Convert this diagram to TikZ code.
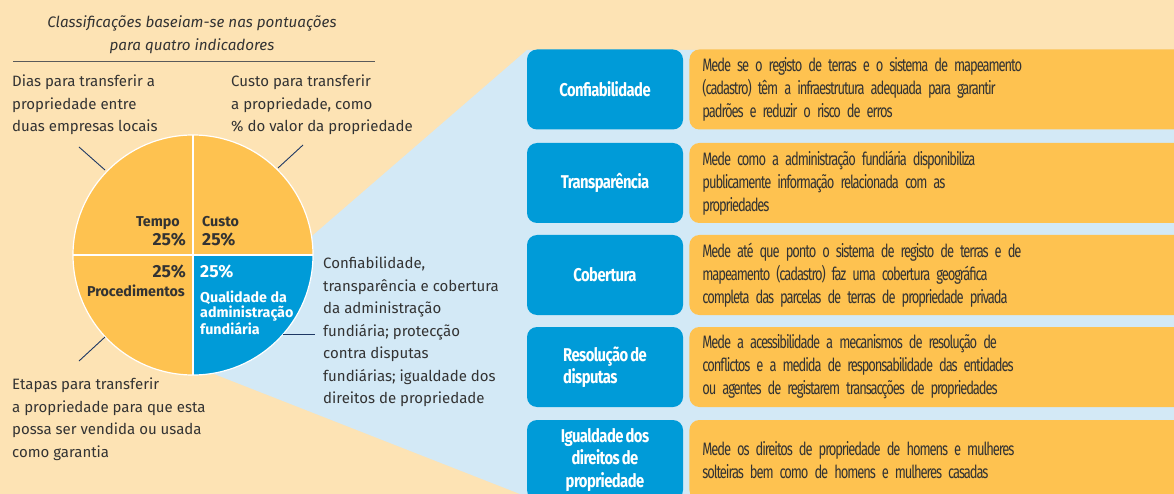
\documentclass[tikz,border=0pt]{standalone}
\usepackage{fontspec}
\setmainfont{Fira Sans}
\newfontfamily\narrowfont[FakeStretch=0.72,LetterSpace=-6,WordSpace=0.6]{Fira Sans}
\newfontfamily\catfont[FakeStretch=0.80,LetterSpace=-3,WordSpace=0.7]{Fira Sans}
\usetikzlibrary{positioning}
\definecolor{bgbeige}{RGB}{253,227,180}
\definecolor{wedgeblue}{RGB}{211,233,246}
\definecolor{pieyellow}{RGB}{254,194,80}
\definecolor{pieblue}{RGB}{0,155,216}
\definecolor{txtgray}{RGB}{51,51,51}
\definecolor{leadnavy}{RGB}{30,56,100}
\definecolor{rulegray}{RGB}{90,90,90}
\tikzset{
  lbl/.style={align=left, anchor=north west, inner sep=0pt, text=txtgray, font=\fontsize{15}{22.5}\selectfont},
  pielbl/.style={inner sep=0pt, text=txtgray, font=\bfseries\fontsize{14.3}{15}\selectfont},
  piepct/.style={inner sep=0pt, text=txtgray, font=\bfseries\fontsize{17.5}{19}\selectfont},
  lead/.style={leadnavy, line width=0.9pt},
  catbox/.style={rounded corners=10pt, fill=pieblue, text=white, minimum width=156pt, minimum height=80pt, inner sep=0pt, align=center, font=\catfont\bfseries\fontsize{18.5}{22.5}\selectfont},
  descbox/.style={rounded corners=10pt, fill=pieyellow, text=txtgray, minimum width=500pt, minimum height=80pt, text width=474pt, inner xsep=13pt, inner ysep=0pt, align=left, font=\narrowfont\fontsize{18}{23}\selectfont}
}
\begin{document}
\begin{tikzpicture}[x=1pt,y=-1pt]
\useasboundingbox (0,0) rectangle (1174,494);
\clip (0,0) rectangle (1174,494);
\fill[bgbeige] (0,0) rectangle (1174,494);
\fill[wedgeblue] (193,255) -- (312,236) -- (527,50) -- (1174,50) -- (1174,494) -- (520,494) -- (214,374) -- cycle;

\node[align=center, inner sep=0pt, text=txtgray, font=\itshape\fontsize{15.2}{23}\selectfont] (title) at (192,34.5) {Classificações baseiam-se nas pontuações\\para quatro indicadores};
\coordinate (rulel) at (13,62);
\coordinate (ruler) at (375,62);
\draw[rulegray, line width=1pt] (rulel) -- (ruler);

\coordinate (pc) at (193,255);
\fill[pieyellow] (pc) circle (120);
\fill[pieblue] (pc) -- (313,255) arc[start angle=0, end angle=90, radius=120] -- cycle;
\draw[white, line width=1.2pt] (193,135) -- (193,375);
\draw[white, line width=1.2pt] (73,255) -- (313,255);
\draw[white, line width=1.2pt] (pc) circle (120);

\node[pielbl, anchor=base east] (tempo) at (180,227) {Tempo};
\node[piepct, anchor=base east] (tempopct) at (186,246) {25\%};
\node[pielbl, anchor=base west] (custo) at (202,227) {Custo};
\node[piepct, anchor=base west] (custopct) at (202,246) {25\%};
\node[piepct, anchor=base east] (procpct) at (186,277) {25\%};
\node[pielbl, anchor=base east] (proc) at (185,296) {Procedimentos};
\node[piepct, anchor=base west, text=white] (qualpct) at (200,277) {25\%};
\node[pielbl, anchor=north west, align=left, text=white] (qual) at (200,291) {Qualidade da\\administração\\fundiária};

\node[lbl] (dias) at (12,75) {Dias para transferir a\\propriedade entre\\duas empresas locais};
\node[lbl] (custotxt) at (231,75) {Custo para transferir\\a propriedade, como\\\% do valor da propriedade};
\node[lbl] (etapas) at (12,378) {Etapas para transferir\\a propriedade para que esta\\possa ser vendida ou usada\\como garantia};
\node[lbl] (qualtxt) at (323,257) {Confiabilidade,\\transparência e cobertura\\da administração\\fundiária; protecção\\contra disputas\\fundiárias; igualdade dos\\direitos de propriedade};

\coordinate (diasend) at (79,147);
\coordinate (diaspie) at (105,170);
\draw[lead] (diasend) -- (diaspie);
\coordinate (custoend) at (303,145);
\coordinate (custopie) at (278,168);
\draw[lead] (custoend) -- (custopie);
\coordinate (etapasend) at (79,361);
\coordinate (etapaspie) at (105,337);
\draw[lead] (etapasend) -- (etapaspie);
\coordinate (qualpie) at (283,334);
\coordinate (qualend) at (315,334);
\draw[lead] (qualpie) -- (qualend);

\node[catbox] (conf) at (605,89.5) {Confiabilidade};
\node[catbox] (transp) at (605,183) {Transparência};
\node[catbox] (cobert) at (605,275) {Cobertura};
\node[catbox, align=left] (resol) at (605,367) {Resolução de\\disputas};
\node[catbox] (igual) at (605,460) {Igualdade dos\\direitos de\\propriedade};

\node[descbox, right=6pt of conf] (confdesc) {Mede se o registo de terras e o sistema de mapeamento\\(cadastro) têm a infraestrutura adequada para garantir\\padrões e reduzir o risco de erros};
\node[descbox, right=6pt of transp] (transpdesc) {Mede como a administração fundiária disponibiliza\\publicamente informação relacionada com as\\propriedades};
\node[descbox, right=6pt of cobert] (cobertdesc) {Mede até que ponto o sistema de registo de terras e de\\mapeamento (cadastro) faz uma cobertura geográfica\\completa das parcelas de terras de propriedade privada};
\node[descbox, right=6pt of resol] (resoldesc) {Mede a acessibilidade a mecanismos de resolução de\\conflictos e a medida de responsabilidade das entidades\\ou agentes de registarem transacções de propriedades};
\node[descbox, right=6pt of igual] (igualdesc) {Mede os direitos de propriedade de homens e mulheres\\solteiras bem como de homens e mulheres casadas};
\end{tikzpicture}
\end{document}
